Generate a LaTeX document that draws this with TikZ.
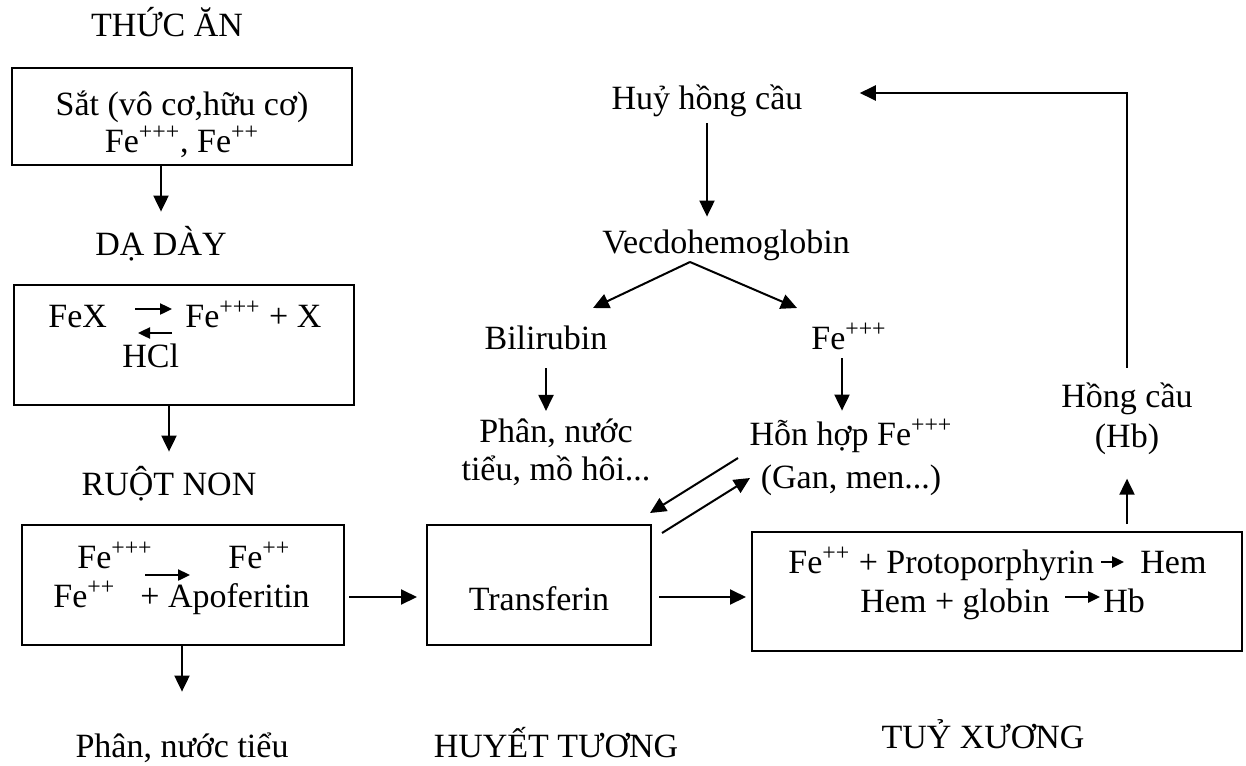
\documentclass[tikz,border=0pt]{standalone}
\usepackage{fontspec}
\setmainfont{Liberation Serif}
\usetikzlibrary{arrows.meta}
\tikzset{
  chu/.style={font=\fontsize{17}{19}\selectfont, inner sep=0pt, text height=11pt, text depth=3.5pt, anchor=base},
  chuhai/.style={font=\fontsize{17}{#1}\selectfont, inner sep=0pt, align=center, anchor=base},
  hop/.style={draw, line width=1pt, inner sep=0pt},
  muiten/.style={line width=1pt, -{Triangle[length=8pt,width=7.5pt]}},
  muinho/.style={line width=1.2pt, -{Triangle[length=6pt,width=5.5pt]}}
}
\begin{document}
\begin{tikzpicture}[x=0.5pt,y=-0.5pt]
\useasboundingbox (0,0) rectangle (1246,765);

\node [chu] (thucan) at (167,37) {THỨC ĂN};
\node [hop, minimum width=170pt, minimum height=48.5pt] (sat) at (182,116.5) {};
\node [chuhai=18pt] (sattxt) at (182,152) {Sắt (vô cơ,hữu cơ)\\Fe\textsuperscript{+++}, Fe\textsuperscript{++}};
\node [chu] (daday) at (161,255) {DẠ DÀY};
\node [hop, minimum width=170pt, minimum height=60pt] (fex) at (184,345) {};
\node [chu, anchor=base west] (fexa) at (48,327) {FeX};
\node [chu, anchor=base west] (fexb) at (185,327) {Fe\textsuperscript{+++} + X};
\node [chu, anchor=base west] (hcl) at (122,367) {HCl};
\draw [muinho] (135,309) -- (172,309);
\draw [muinho] (172,333) -- (138,333);
\node [chu] (ruotnon) at (169,495) {RUỘT NON};
\node [hop, minimum width=161pt, minimum height=60pt] (ruot) at (183,585) {};
\node [chu, anchor=base west] (ruota) at (77,568) {Fe\textsuperscript{+++}};
\node [chu, anchor=base west] (ruotb) at (228,568) {Fe\textsuperscript{++}};
\node [chu, anchor=base west] (ruotc) at (53,607) {Fe\textsuperscript{++}};
\node [chu, anchor=base west] (ruotd) at (140,607) {+ Apoferitin};
\draw [muinho] (145,575) -- (190,575);
\node [chu] (phan) at (182,757) {Phân, nước tiểu};

\node [hop, minimum width=112pt, minimum height=60pt] (trans) at (539,585) {};
\node [chu] (transtxt) at (539,610) {Transferin};
\node [chu] (huyet) at (556,757) {HUYẾT TƯƠNG};
\node [chu] (huy) at (707,110) {Huỷ hồng cầu};
\node [chu] (vecdo) at (726,253) {Vecdohemoglobin};
\node [chu] (bili) at (546,349) {Bilirubin};
\node [chu] (fe) at (849,349) {Fe\textsuperscript{+++}};
\node [chuhai=19pt] (thai) at (556,480) {Phân, nước\\tiểu, mồ hôi...};
\node [chuhai=21.5pt] (honhop) at (851,488) {Hỗn hợp Fe\textsuperscript{+++}\\(Gan, men...)};

\node [hop, minimum width=245pt, minimum height=59.5pt] (tuy) at (997,591.5) {};
\node [chu, anchor=base west] (tuya) at (788,573) {Fe\textsuperscript{++} + Protoporphyrin};
\node [chu, anchor=base west] (tuyb) at (1140,573) {Hem};
\node [chu, anchor=base west] (tuyc) at (860,612) {Hem + globin};
\node [chu, anchor=base west] (tuyd) at (1103,612) {Hb};
\draw [muinho] (1101,562) -- (1124,562);
\draw [muinho] (1065,597) -- (1100,597);
\node [chuhai=20pt] (hong) at (1127,447) {Hồng cầu\\(Hb)};
\node [chu] (tuyxuong) at (983,748) {TUỶ XƯƠNG};

\coordinate (goc) at (1127,93);
\coordinate (tach) at (690,262);
\coordinate (vaobili) at (593,308);
\coordinate (vaofe) at (797,308);
\coordinate (vetrans) at (738,458);
\coordinate (dentrans) at (650,513);
\coordinate (ratrans) at (662,533);
\coordinate (denhon) at (750,478);

\draw [muiten, shorten >=10.5pt] (sat.south -| daday.north) -- (daday.north);
\draw [muiten, shorten >=10.5pt] (fex.south -| ruotnon.north) -- (ruotnon.north);
\draw [muiten, shorten >=21.5pt] (ruot.south -| phan.north) -- (phan.north);
\draw [muiten, shorten <=2pt, shorten >=4.5pt] ([yshift=-6pt]ruot.east) -- ([yshift=-6pt]trans.west);
\draw [muiten, shorten <=3.5pt, shorten >=2.5pt] ([yshift=-6pt]trans.east) -- ([yshift=-6pt]trans.east -| tuy.west);
\draw [muiten, shorten <=3.5pt, shorten >=12pt] (tuy.north -| hong.south) -- (hong.south);
\draw [muiten, shorten <=7pt, shorten >=28.5pt] (hong.north) -- (goc) -- (huy.east |- goc);
\draw [muiten, shorten <=3pt, shorten >=7pt] (huy.south) -- (huy.south |- vecdo.north);
\draw [muiten] (tach) -- (vaobili);
\draw [muiten] (tach) -- (vaofe);
\draw [muiten, shorten <=6pt, shorten >=3.5pt] (bili.south) -- (bili.south |- thai.north);
\draw [muiten, shorten <=1pt, shorten >=4pt] ([xshift=-3.5pt]fe.south) -- ([xshift=-3.5pt]fe.south |- honhop.north);
\draw [muiten] (vetrans) -- (dentrans);
\draw [muiten] (ratrans) -- (denhon);
\end{tikzpicture}
\end{document}
